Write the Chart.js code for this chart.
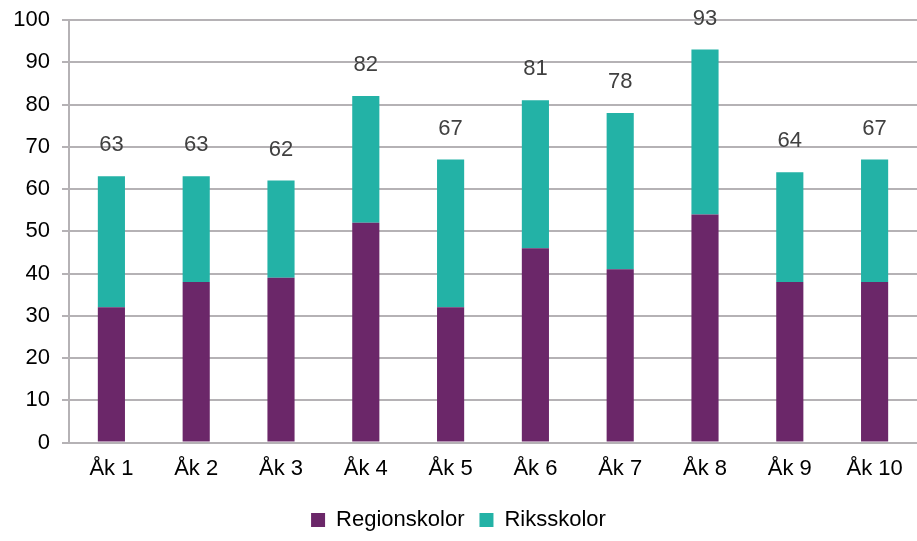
<!DOCTYPE html>
<html>
<head>
<meta charset="utf-8">
<script src="https://cdn.jsdelivr.net/npm/chart.js@4"></script>
<style>
  html, body { margin: 0; padding: 0; background: #fff; }
  #wrap { width: 917px; height: 541px; position: relative; }
</style>
</head>
<body>
<div id="wrap"><canvas id="chart"></canvas></div>
<script>
// data
let grades = ["Åk 1", "Åk 2", "Åk 3", "Åk 4", "Åk 5", "Åk 6", "Åk 7", "Åk 8", "Åk 9", "Åk 10"];
let regionValues = [32, 38, 39, 52, 32, 46, 41, 54, 38, 38];
let riksValues = [31, 25, 23, 30, 35, 35, 37, 39, 26, 29];
let yTicks = [0, 10, 20, 30, 40, 50, 60, 70, 80, 90, 100];

let regionColor = "#6B2769";
let riksColor = "#23B2A6";
let gridColor = "#B5B2B5";
let fontFamily = "'Liberation Sans', Arial, sans-serif";

// totals above each stack
const totalsPlugin = {
  id: "totalsPlugin",
  afterDatasetsDraw: (chart) => {
    const {ctx} = chart;
    const yScale = chart.scales.y;
    const xScale = chart.scales.x;
    ctx.save();
    ctx.font = `22px ${fontFamily}`;
    ctx.fillStyle = "#404040";
    ctx.textAlign = "center";
    ctx.textBaseline = "middle";
    grades.forEach((g, i) => {
      let total = regionValues[i] + riksValues[i];
      ctx.fillText(String(total), xScale.getPixelForValue(i), yScale.getPixelForValue(total) - 31);
    });
    ctx.restore();
  }
};

new Chart(document.getElementById("chart"), {
  type: "bar",
  data: {
    labels: grades,
    datasets: [
      {
        label: "Regionskolor",
        data: regionValues,
        backgroundColor: regionColor,
        barPercentage: 0.64,
        categoryPercentage: 0.5,
      },
      {
        label: "Riksskolor",
        data: riksValues,
        backgroundColor: riksColor,
        barPercentage: 0.64,
        categoryPercentage: 0.5,
      }
    ]
  },
  plugins: [totalsPlugin],
  options: {
    responsive: true,
    maintainAspectRatio: false,
    animation: false,
    layout: { padding: { top: 20, right: 0, left: 0, bottom: 0 } },
    scales: {
      x: {
        stacked: true,
        grid: { display: false },
        border: { display: true, color: gridColor, width: 2 },
        ticks: { color: "#000", font: { family: fontFamily, size: 22 }, padding: 5 },
        afterFit: (axis) => { axis.height += 7; },
      },
      y: {
        stacked: true,
        min: 0,
        max: 100,
        afterBuildTicks: (axis) => { axis.ticks = yTicks.map(v => ({value: v})); },
        afterFit: (axis) => { axis.width = 69; axis.paddingTop = 0; axis.paddingBottom = 0; },
        grid: { color: gridColor, lineWidth: 2, tickLength: 7 },
        border: { display: true, color: gridColor, width: 2 },
        ticks: { color: "#000", font: { family: fontFamily, size: 22 }, padding: 12 },
      }
    },
    plugins: {
      legend: {
        position: "bottom",
        labels: {
          color: "#000",
          font: { family: fontFamily, size: 22 },
          boxWidth: 14,
          boxHeight: 14,
          padding: 15,
        }
      },
      tooltip: { enabled: false }
    }
  }
});
</script>
</body>
</html>
